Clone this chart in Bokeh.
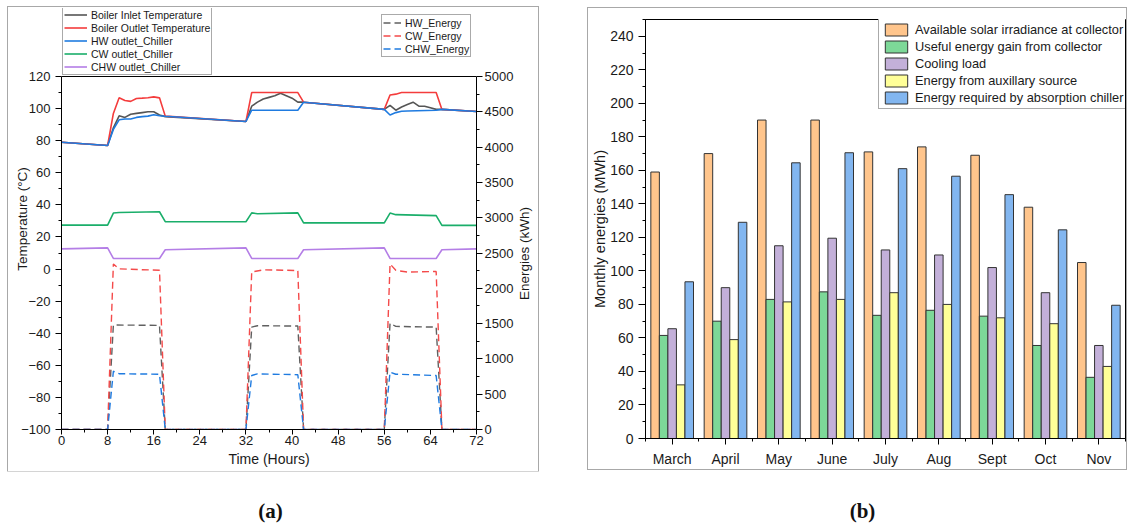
import math
from bokeh.plotting import figure
from bokeh.models import (Range1d, LinearAxis, FixedTicker, Legend, LegendItem,
                          Label, Span, ColumnDataSource)
from bokeh.layouts import row, column
from bokeh.embed import file_html
from bokeh.resources import INLINE
from bokeh.transform import dodge

FONT = "Liberation Sans"

# ---------------- panel (a) data ----------------
t_inlet = [0, 8, 9, 10, 11, 12, 13, 14, 15, 16, 17, 18, 32, 33, 34, 35, 36, 37, 38, 39, 40, 41, 42,
           56, 57, 58, 59, 60, 61, 62, 63, 64, 65, 66, 72]
boiler_inlet = [79, 77, 88, 95.5, 94.5, 96.5, 97, 97.5, 98, 98, 96, 95,
                92, 101.5, 104, 106, 107, 108, 109.5, 108, 106.5, 104, 104,
                99.5, 102, 99, 101, 102.5, 104, 101.5, 101.5, 100.5, 99.5, 99.5, 98.2]

t_outlet = [0, 8, 9, 10, 11, 12, 13, 14, 15, 16, 17, 18, 32, 33, 41, 42, 56, 57, 58, 59, 65, 66, 72]
boiler_outlet = [79, 77, 97, 106.7, 105, 104.5, 106.3, 106.5, 106.8, 107.3, 106.7, 95.3,
                 92, 110, 110, 104, 99.5, 108.5, 109, 110, 110, 99.5, 98.2]

t_hw = [0, 8, 9, 10, 11, 12, 13, 14, 15, 16, 17, 18, 32, 33, 41, 42, 56, 57, 58, 59, 60, 65, 66, 72]
hw_outlet = [79, 77, 87, 93, 93.5, 93.5, 94.5, 95, 95.3, 96.2, 95.5, 95.2,
             92, 99, 99, 104, 99.5, 96, 97.5, 98.3, 98.5, 99, 99.5, 98.2]

t_cw = [0, 8, 9, 10, 17, 18, 32, 33, 34, 41, 42, 56, 57, 58, 65, 66, 72]
cw_outlet = [27.4, 27.4, 34.9, 35.2, 35.7, 29.5, 29.5, 35, 34.5, 35, 28.8, 28.8, 34.9, 33.9, 33.3, 27.2, 27.2]

t_chw = [0, 8, 9, 17, 18, 32, 33, 41, 42, 56, 57, 65, 66, 72]
chw_outlet = [12.6, 13.2, 6.6, 6.6, 12, 13.2, 6.6, 6.6, 12, 13.2, 6.6, 6.6, 12, 12.6]

t_hwe = [0, 8, 9, 17, 18, 32, 33, 34, 41, 42, 56, 57, 58, 65, 66, 72]
hw_energy = [0, 0, 1480, 1475, 0, 0, 1450, 1470, 1465, 0, 0, 1505, 1460, 1450, 0, 0]

t_cwe = [0, 8, 9, 10, 17, 18, 32, 33, 35, 41, 42, 56, 57, 58, 60, 65, 66, 72]
cw_energy = [0, 0, 2345, 2275, 2255, 0, 0, 2230, 2262, 2252, 0, 0, 2345, 2255, 2230, 2238, 0, 0]

t_chwe = [0, 8, 9, 10, 17, 18, 32, 33, 34, 41, 42, 56, 57, 58, 65, 66, 72]
chw_energy = [0, 0, 825, 790, 783, 0, 0, 765, 788, 776, 0, 0, 812, 783, 765, 0, 0]

hour_ticks = list(range(0, 73, 8))
temp_ticks = list(range(-100, 121, 20))
energy_ticks = list(range(0, 5001, 500))

# ---------------- panel (b) data ----------------
months = ["March", "April", "May", "June", "July", "Aug", "Sept", "Oct", "Nov"]
solar = [159, 170, 190, 190, 171, 174, 169, 138, 105]
useful = [61.5, 70, 83, 87.5, 73.5, 76.5, 73, 55.5, 36.5]
cooling = [65.5, 90, 115, 119.5, 112.5, 109.5, 102, 87, 55.5]
aux = [32, 59, 81.5, 83, 87, 80, 72, 68.5, 43]
chiller = [93.5, 129, 164.5, 170.5, 161, 156.5, 145.5, 124.5, 79.5]
bar_ticks = list(range(0, 241, 20))


def style_axis(ax, tick_size, label_size):
    ax.axis_line_color = "black"
    ax.axis_line_width = 1
    ax.major_tick_line_color = "black"
    ax.minor_tick_line_color = "black"
    ax.major_tick_in = 0
    ax.major_tick_out = 6
    ax.minor_tick_in = 0
    ax.minor_tick_out = 3
    ax.major_label_text_font = FONT
    ax.major_label_text_font_size = tick_size
    ax.major_label_text_color = "#1a1a1a"
    ax.major_label_standoff = 4
    ax.axis_label_text_font = FONT
    ax.axis_label_text_font_size = label_size
    ax.axis_label_text_font_style = "normal"
    ax.axis_label_text_color = "#1a1a1a"
    ax.axis_label_standoff = 4


def no_frame_align(p):
    if "frame_align" in p.properties():
        p.frame_align = False


def blank_fig(w, h):
    f = figure(width=w, height=h, x_range=Range1d(0, 1), y_range=Range1d(0, 1),
               output_backend="svg", toolbar_location=None, min_border=0)
    no_frame_align(f)
    f.axis.visible = False
    f.grid.visible = False
    f.outline_line_color = None
    f.background_fill_color = "white"
    f.border_fill_color = "white"
    return f


# ================= panel (a) =================
# frame spans from just under the panel top (legend area) down to the x axis;
# the temperature/energy axes are bounded to their data extent.
A_FRAME_H = 421          # px, frame height
A_PLOT_H = 353           # px, height of the -100..120 plotting box
t_top = -100 + 220 * A_FRAME_H / A_PLOT_H
e_top = 5000 * A_FRAME_H / A_PLOT_H

p1 = figure(width=508, height=464, x_range=Range1d(0, 72), y_range=Range1d(-100, t_top),
            output_backend="svg", toolbar_location=None,
            min_border_left=53, min_border_right=39, min_border_top=1, min_border_bottom=42)
no_frame_align(p1)
p1.extra_y_ranges = {"energy": Range1d(0, e_top)}
p1.xgrid.visible = False
p1.ygrid.visible = False
p1.outline_line_color = None
p1.background_fill_color = "white"
p1.border_fill_color = "white"

p1.xaxis.ticker = FixedTicker(ticks=hour_ticks, minor_ticks=[h + 4 for h in hour_ticks[:-1]])
p1.yaxis.ticker = FixedTicker(ticks=temp_ticks, minor_ticks=[v + 10 for v in temp_ticks[:-1]])
p1.yaxis.bounds = (-100, 120)
p1.xaxis.axis_label = "Time (Hours)"
p1.yaxis.axis_label = "Temperature (\u00b0C)"
style_axis(p1.xaxis[0], "13px", "14px")
style_axis(p1.yaxis[0], "13px", "13.5px")
p1.xaxis[0].major_tick_out = 5
p1.xaxis[0].major_label_standoff = 1
p1.xaxis[0].axis_label_standoff = 3
p1.yaxis[0].major_label_standoff = 5
p1.yaxis[0].axis_label_standoff = -12

ax_r = LinearAxis(y_range_name="energy", bounds=(0, 5000),
                  ticker=FixedTicker(ticks=energy_ticks, minor_ticks=[e + 250 for e in energy_ticks[:-1]]))
style_axis(ax_r, "13px", "13.5px")
ax_r.major_label_standoff = 2
p1.add_layout(ax_r, "right")

# top edge of the plotting box
p1.add_layout(Span(location=120, dimension="width", line_color="black", line_width=1))

lw = 1.6
r_in = p1.line(t_inlet, boiler_inlet, line_color="#555555", line_width=lw)
r_out = p1.line(t_outlet, boiler_outlet, line_color="#f43c3c", line_width=lw)
r_hw = p1.line(t_hw, hw_outlet, line_color="#1f7be0", line_width=lw)
r_cw = p1.line(t_cw, cw_outlet, line_color="#1aae6a", line_width=lw)
r_chw = p1.line(t_chw, chw_outlet, line_color="#b47ee6", line_width=lw)

dash = "7 4"
r_hwe = p1.line(t_hwe, hw_energy, y_range_name="energy", line_color="#606060",
                line_width=1.4, line_dash=dash)
r_cwe = p1.line(t_cwe, cw_energy, y_range_name="energy", line_color="#f44a4a",
                line_width=1.4, line_dash=dash)
r_chwe = p1.line(t_chwe, chw_energy, y_range_name="energy", line_color="#1f7be0",
                 line_width=1.4, line_dash=dash)


def make_legend(items, loc, font_size, glyph_w, glyph_h, spacing, padding):
    lg = Legend(items=items, location=loc, orientation="vertical")
    lg.label_text_font = FONT
    lg.label_text_font_size = font_size
    lg.label_text_color = "#1a1a1a"
    lg.glyph_width = glyph_w
    lg.glyph_height = glyph_h
    lg.label_height = glyph_h
    lg.spacing = spacing
    lg.padding = padding
    lg.margin = 0
    lg.label_standoff = 4
    lg.border_line_color = "#555555"
    lg.border_line_width = 1
    lg.background_fill_color = "white"
    lg.background_fill_alpha = 1
    return lg


leg1 = make_legend([
    LegendItem(label="Boiler Inlet Temperature", renderers=[r_in]),
    LegendItem(label="Boiler Outlet Temperature", renderers=[r_out]),
    LegendItem(label="HW outlet_Chiller", renderers=[r_hw]),
    LegendItem(label="CW outlet_Chiller", renderers=[r_cw]),
    LegendItem(label="CHW outlet_Chiller", renderers=[r_chw]),
], (1, 354), "10.5px", 23, 13, 0, 1)
leg2 = make_legend([
    LegendItem(label="HW_Energy", renderers=[r_hwe]),
    LegendItem(label="CW_Energy", renderers=[r_cwe]),
    LegendItem(label="CHW_Energy", renderers=[r_chwe]),
], (320, 372), "10.5px", 18, 13, 0, 1)
p1.add_layout(leg1, "center")
p1.add_layout(leg2, "center")

# narrow strip right of panel (a) holding the right-axis title (reads bottom to top)
side = blank_fig(22, 464)
side.add_layout(Label(x=0.36, y=0.47, text="Energies (kWh)", angle=90, angle_units="deg",
                      text_align="center", text_baseline="middle", text_font=FONT,
                      text_font_size="13.5px", text_color="#1a1a1a"))

panel_a = row(p1, side, margin=(7, 0, 0, 8), styles={"outline": "1px solid #a8a8a8"})

# ================= panel (b) =================
src = ColumnDataSource(dict(x=list(range(len(months))), solar=solar, useful=useful,
                            cooling=cooling, aux=aux, chiller=chiller))
p2 = figure(width=538, height=461, x_range=Range1d(-0.5, 8.5), y_range=Range1d(0, 250),
            output_backend="svg", toolbar_location=None,
            min_border_left=57, min_border_right=1, min_border_top=11, min_border_bottom=31,
            margin=(8, 0, 0, 50))
no_frame_align(p2)
p2.styles = {"outline": "1px solid #a8a8a8"}
p2.xgrid.visible = False
p2.ygrid.visible = False
p2.outline_line_color = "black"
p2.outline_line_alpha = 1
p2.border_fill_color = "white"

p2.xaxis.ticker = FixedTicker(ticks=list(range(len(months))),
                              minor_ticks=[i - 0.5 for i in range(len(months) + 1)])
p2.xaxis.major_label_overrides = {i: m for i, m in enumerate(months)}
p2.yaxis.ticker = FixedTicker(ticks=bar_ticks, minor_ticks=[v + 10 for v in bar_ticks])
p2.yaxis.axis_label = "Monthly energies (MWh)"
style_axis(p2.xaxis[0], "14px", "14px")
style_axis(p2.yaxis[0], "14px", "14.5px")
p2.xaxis[0].major_label_standoff = 6
p2.yaxis[0].major_tick_out = 7
p2.yaxis[0].major_label_standoff = 5
p2.yaxis[0].axis_label_standoff = -1

bw = 0.16
series = [("solar", "#ffc58c", "Available solar irradiance at collector"),
          ("useful", "#7dd898", "Useful energy gain from collector"),
          ("cooling", "#c3b0d9", "Cooling load"),
          ("aux", "#ffff98", "Energy from auxillary source"),
          ("chiller", "#82b6f0", "Energy required by absorption chiller")]
items2 = []
for k, (col, color, name) in enumerate(series):
    r = p2.vbar(x=dodge("x", (k - 2) * bw, range=p2.x_range), top=col, width=bw, source=src,
                fill_color=color, line_color="#333333", line_width=1)
    items2.append(LegendItem(label=name, renderers=[r]))

leg3 = make_legend(items2, (233, 329), "12.8px", 28, 15, 2, 3)
leg3.label_standoff = 5
p2.add_layout(leg3, "center")


# ================= captions =================
def caption(letter, xfrac, w):
    c = blank_fig(w, 53)
    c.add_layout(Label(x=xfrac, y=0.25, text="(" + letter + ")", text_align="center",
                       text_baseline="middle", text_font="Liberation Serif",
                       text_font_size="21px", text_font_style="bold", text_color="#111111"))
    return c


ca = caption("a", 270 / 563, 563)
cb = caption("b", (862 - 563) / 564, 564)

layout = column(row(panel_a, p2), row(ca, cb))
open("out.html", "w").write(file_html(layout, INLINE))
